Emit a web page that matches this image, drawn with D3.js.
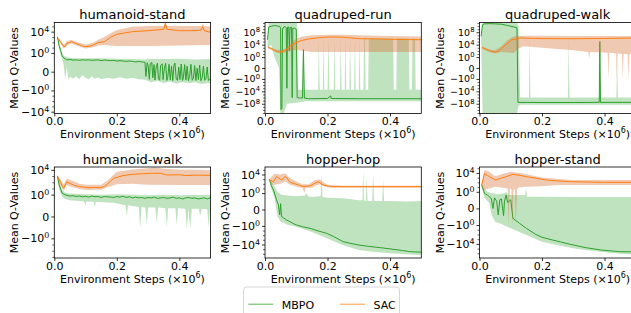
<!DOCTYPE html>
<html>
<head>
<meta charset="utf-8">
<script src="https://cdn.jsdelivr.net/npm/d3@7"></script>
<style>
  body { margin: 0; background: #fff; }
  svg { display: block; font-family: "DejaVu Sans", sans-serif; }
</style>
</head>
<body>
<svg id="chart" width="631" height="313"></svg>
<script>
// ---- data (x in millions of env steps, y = mean Q-value) ----
const taskNames = ["humanoid-stand", "quadruped-run", "quadruped-walk",
                   "humanoid-walk", "hopper-hop", "hopper-stand"];
const seriesNames = ["MBPO", "SAC"];
const xTicks = [0, 0.2, 0.4];
const yTicksSmall = [-1e4, -1, 0, 1, 1e4];
const yTicksWide = [-1e8, -1e4, -1, 0, 1, 1e4, 1e8];

// humanoid-stand
const hsSacMean = [[0.01,600],[0.02,130],[0.03,15],[0.035,15],[0.04,65],[0.055,130],[0.07,60],[0.09,20],[0.1,15],[0.115,20],[0.125,32],[0.14,87],[0.16,130],[0.18,870],[0.2,3.2e3],[0.25,1e4],[0.3,1.55e4],[0.35,2.8e4],[0.355,3.7e5],[0.36,2.8e4],[0.4,1.55e4],[0.45,1.55e4],[0.47,2e4],[0.475,8.7e4],[0.48,1.5e4],[0.5,7.6e3]];
const hsSacHi = [[0.01,1e3],[0.02,300],[0.03,30],[0.04,150],[0.055,300],[0.07,130],[0.1,40],[0.125,80],[0.14,300],[0.16,1e3],[0.18,5e3],[0.2,2e4],[0.25,8e4],[0.3,1.2e5],[0.35,1.2e5],[0.355,5e5],[0.36,1.3e5],[0.4,1.2e5],[0.47,1.2e5],[0.475,3e5],[0.48,1.2e5],[0.5,9e4]];
const hsSacLo = [[0.01,300],[0.02,60],[0.03,7],[0.04,25],[0.055,60],[0.07,25],[0.1,7],[0.125,12],[0.14,25],[0.16,30],[0.2,20],[0.3,20],[0.4,25],[0.5,30]];
const hsMbpoMean = [[0.01,1100],[0.015,30],[0.02,3],[0.025,0.3],[0.03,0.12],[0.035,0.08],[0.04,0.05],[0.05,0.06],[0.06,0.045],[0.07,0.05],[0.08,0.04],[0.09,0.05],[0.1,0.045],[0.11,0.05],[0.12,0.04],[0.13,0.045],[0.14,0.05],[0.15,0.035],[0.16,0.045],[0.17,0.04],[0.18,0.035],[0.19,0.04],[0.2,0.03],[0.21,0.035],[0.22,0.03],[0.23,0.025],[0.24,0.03],[0.25,0.025],[0.26,0.02],[0.27,0.025],[0.28,0.02],[0.29,0.018],[0.293,-0.002],[0.297,0.014],[0.3,0.004],[0.304,-0.008],[0.307,0.01],[0.312,0.016],[0.315,-0.004],[0.319,0.006],[0.322,-0.011],[0.326,0.002],[0.33,0.012],[0.333,-0.006],[0.337,-0.012],[0.34,0.004],[0.345,0.009],[0.348,-0.009],[0.352,0.001],[0.356,0.011],[0.36,-0.013],[0.363,-0.003],[0.367,0.007],[0.371,-0.01],[0.375,0.003],[0.379,-0.014],[0.383,0.005],[0.386,0.012],[0.39,-0.007],[0.394,-0.012],[0.398,0.002],[0.402,-0.009],[0.406,0.008],[0.41,-0.013],[0.413,-0.004],[0.417,0.006],[0.421,-0.011],[0.425,0.003],[0.429,-0.014],[0.433,-0.002],[0.437,0.007],[0.441,-0.012],[0.445,-0.005],[0.449,0.004],[0.453,-0.013],[0.457,0.001],[0.461,-0.009],[0.465,0.005],[0.469,-0.015],[0.473,-0.004],[0.477,0.003],[0.481,-0.012],[0.485,-0.006],[0.489,0.002],[0.493,-0.013],[0.497,-0.008],[0.5,-0.011]];
const hsMbpoHi = [[0.01,1500],[0.015,100],[0.02,10],[0.025,1],[0.03,0.3],[0.04,0.15],[0.06,0.1],[0.1,0.1],[0.15,0.1],[0.2,0.08],[0.25,0.07],[0.29,0.06],[0.3,0.08],[0.35,0.07],[0.4,0.08],[0.45,0.06],[0.5,0.07]];
const hsMbpoLo = [[0.01,800],[0.015,10],[0.02,0.5],[0.025,0.05],[0.03,0.005],[0.035,-0.01],[0.04,0.002],[0.045,-0.012],[0.05,-0.002],[0.06,-0.006],[0.07,-0.002],[0.08,-0.008],[0.09,-0.001],[0.1,-0.004],[0.11,-0.008],[0.12,-0.002],[0.13,-0.006],[0.14,-0.003],[0.15,-0.008],[0.17,-0.004],[0.19,-0.006],[0.21,-0.003],[0.23,-0.006],[0.25,-0.004],[0.27,-0.008],[0.29,-0.01],[0.31,-0.03],[0.33,-0.015],[0.35,-0.04],[0.37,-0.02],[0.39,-0.05],[0.41,-0.025],[0.43,-0.045],[0.45,-0.03],[0.47,-0.06],[0.49,-0.04],[0.5,-0.05]];

// quadruped-run
const qrSacMean = [[0.01,1.3e3],[0.02,600],[0.03,150],[0.037,70],[0.045,45],[0.053,43],[0.06,80],[0.075,830],[0.085,5e3],[0.096,3.4e4],[0.11,1.2e5],[0.12,2.5e5],[0.14,7e5],[0.165,1.4e6],[0.19,2.5e6],[0.21,3e6],[0.25,2.5e6],[0.3,8.5e5],[0.36,7e5],[0.41,5.2e5],[0.45,4.5e5],[0.5,4e5]];
const qrSacHi = [[0.01,3e3],[0.03,400],[0.05,150],[0.065,500],[0.08,2e4],[0.1,1e6],[0.12,4e6],[0.15,1e7],[0.2,1.7e7],[0.25,1.5e7],[0.3,1e7],[0.4,6e6],[0.5,4e6]];
const qrSacLo = [[0.01,600],[0.03,60],[0.05,15],[0.065,30],[0.08,100],[0.1,200],[0.12,100],[0.15,45],[0.2,43],[0.3,43],[0.4,43],[0.5,43]];
const qrMbpoMean = [[0.008,4e5],[0.012,5e9],[0.02,8e9],[0.03,1.5e10],[0.04,1e10],[0.048,6e9],[0.05,3e9],[0.051,-8e9],[0.054,-3e9],[0.056,1e9],[0.06,5e9],[0.065,6e9],[0.068,3e9],[0.07,-1e3],[0.072,4e9],[0.076,5e9],[0.078,1e2],[0.08,3e9],[0.085,4e9],[0.087,-1e6],[0.089,2e9],[0.095,2e9],[0.1,1e9],[0.103,-1e6],[0.11,-1.4e6],[0.12,-1.4e6],[0.123,240],[0.126,-1.5e6],[0.14,-2.4e6],[0.2,-2e6],[0.21,-3e5],[0.212,-2e6],[0.3,-2.4e6],[0.4,-2.4e6],[0.5,-2.4e6]];
const qrMbpoHi = [[0.008,1e6],[0.012,1e11],[0.1,1e11],[0.102,1e11],[0.105,-3e3],[0.12,-3e3],[0.122,1e6],[0.124,-3e3],[0.17,-3e3],[0.172,1e6],[0.175,-3e3],[0.185,-3e3],[0.187,1e6],[0.19,-3e3],[0.2,-3e3],[0.203,2e6],[0.206,-3e3],[0.22,-3e3],[0.222,1e6],[0.225,-3e3],[0.24,-3e3],[0.242,1e6],[0.245,-3e3],[0.255,-3e3],[0.257,2e6],[0.26,-3e3],[0.27,-3e3],[0.272,1e6],[0.275,-3e3],[0.285,-3e3],[0.288,1e6],[0.29,-3e3],[0.3,-3e3],[0.302,1e6],[0.305,-3e3],[0.315,-3e3],[0.317,1e6],[0.32,1e6],[0.322,-3e3],[0.33,-3e3],[0.332,1e6],[0.41,1e6],[0.412,-3e3],[0.42,-3e3],[0.422,1e6],[0.46,1e6],[0.462,-3e3],[0.47,-3e3],[0.472,1e6],[0.48,1e6],[0.482,-3e3],[0.5,-3e3]];
const qrMbpoLo = [[0.008,1e3],[0.02,1e4],[0.03,1],[0.045,0],[0.049,-1e11],[0.06,-1e11],[0.065,-5e9],[0.07,-1e8],[0.1,-5e7],[0.13,-1.5e7],[0.2,-1.5e7],[0.3,-1.7e7],[0.4,-1.7e7],[0.5,-1.7e7]];

// quadruped-walk
const qwSacMean = [[0.008,1.3e3],[0.02,400],[0.035,100],[0.05,43],[0.06,80],[0.07,600],[0.085,1e4],[0.103,4e5],[0.13,1.4e6],[0.2,9e5],[0.3,8e5],[0.4,1e6],[0.5,1.4e6]];
const qwSacHi = [[0.008,3e3],[0.03,300],[0.05,150],[0.07,3e3],[0.09,3e5],[0.11,5e6],[0.13,8e6],[0.2,8e6],[0.3,6e6],[0.4,6e6],[0.5,6e6]];
const qwSacLo = [[0.008,500],[0.03,40],[0.05,15],[0.07,40],[0.09,30],[0.11,20],[0.12,300],[0.14,3e3],[0.2,1e3],[0.3,150],[0.348,40],[0.351,0.5],[0.354,40],[0.41,25],[0.412,-1.8],[0.415,25],[0.437,15],[0.439,-2],[0.442,15],[0.456,10],[0.458,-1.8],[0.461,10],[0.474,8],[0.476,-2],[0.479,8],[0.5,6]];
const qwMbpoMean = [[0.005,5e6],[0.01,3e10],[0.015,5e10],[0.03,6e10],[0.05,5e10],[0.07,4e10],[0.09,1.5e10],[0.11,5e9],[0.12,3e9],[0.123,-3.7e7],[0.15,-3.7e7],[0.2,-4e7],[0.3,-4e7],[0.383,-3.5e7],[0.385,1e5],[0.387,-3.7e7],[0.5,-3.5e7]];
const qwMbpoHi = [[0.005,1e7],[0.01,1e11],[0.12,1e11],[0.125,1e10],[0.13,-1e6],[0.158,-1e6],[0.16,1e6],[0.163,-1e6],[0.283,-1e6],[0.285,1e6],[0.288,-1e6],[0.383,-1e6],[0.385,2e6],[0.388,-1e6],[0.438,-1e6],[0.44,0.5],[0.443,-1e6],[0.5,-1e6]];
const qwMbpoLo = [[0.005,1e6],[0.01,-1e11],[0.12,-1e11],[0.125,-5e8],[0.13,-2e8],[0.5,-2e8]];

// humanoid-walk
const hwSacMean = [[0.01,800],[0.02,100],[0.03,11],[0.04,123],[0.05,68],[0.065,30],[0.08,20],[0.1,15],[0.115,13],[0.13,15],[0.145,13],[0.16,20],[0.17,47],[0.18,150],[0.19,440],[0.22,1.2e3],[0.25,1.9e3],[0.28,2.3e3],[0.31,2.8e3],[0.34,2.8e3],[0.36,1.5e3],[0.4,1.6e3],[0.42,1.2e3],[0.45,1.4e3],[0.5,1.3e3]];
const hwSacHi = [[0.01,1.5e3],[0.02,300],[0.03,40],[0.04,400],[0.05,250],[0.08,60],[0.1,40],[0.15,40],[0.17,200],[0.2,5e3],[0.25,1.2e4],[0.3,1.8e4],[0.32,2.5e4],[0.35,1.5e4],[0.4,1e4],[0.45,1e4],[0.5,9e3]];
const hwSacLo = [[0.01,400],[0.02,30],[0.03,4],[0.04,40],[0.05,20],[0.08,8],[0.1,5.6],[0.15,6],[0.17,15],[0.2,47],[0.25,60],[0.3,40],[0.4,36],[0.5,36]];
const hwMbpoMean = [[0.01,1e3],[0.015,50],[0.025,1.7],[0.035,0.9],[0.05,0.6],[0.06,0.7],[0.07,0.5],[0.08,0.6],[0.09,0.45],[0.1,0.55],[0.11,0.4],[0.12,0.6],[0.13,0.45],[0.14,0.5],[0.15,0.35],[0.16,0.5],[0.17,0.45],[0.18,0.4],[0.19,0.35],[0.2,0.5],[0.21,0.4],[0.22,0.55],[0.23,0.35],[0.24,0.45],[0.25,0.3],[0.26,0.4],[0.27,0.3],[0.28,0.35],[0.29,0.25],[0.3,0.35],[0.31,0.3],[0.32,0.4],[0.33,0.25],[0.34,0.3],[0.35,0.35],[0.36,0.25],[0.37,0.3],[0.38,0.4],[0.39,0.25],[0.4,0.3],[0.41,0.2],[0.42,0.3],[0.43,0.35],[0.44,0.25],[0.45,0.3],[0.46,0.2],[0.47,0.25],[0.48,0.3],[0.49,0.2],[0.5,0.35]];
const hwMbpoHi = [[0.01,1.5e3],[0.015,200],[0.025,5],[0.035,2],[0.05,1.5],[0.1,1.2],[0.15,1],[0.2,1.2],[0.25,1],[0.3,0.8],[0.35,1],[0.4,0.8],[0.45,0.9],[0.5,1]];
const hwMbpoLo = [[0.01,500],[0.015,10],[0.025,0.5],[0.035,0.2],[0.05,0.12],[0.07,0.1],[0.095,0.08],[0.1,0.02],[0.103,0.08],[0.125,0.07],[0.13,0.01],[0.133,0.07],[0.16,0.06],[0.19,0.05],[0.21,0.03],[0.228,0.02],[0.232,0.0001],[0.236,0.02],[0.27,0.01],[0.275,-0.023],[0.279,0.01],[0.291,0.008],[0.296,-0.007],[0.3,0.008],[0.323,0.008],[0.328,-0.003],[0.332,0.008],[0.355,0.006],[0.36,-0.015],[0.364,0.006],[0.387,0.006],[0.392,-0.007],[0.396,0.006],[0.419,0.005],[0.424,-0.03],[0.429,0.004],[0.435,-0.023],[0.44,0.005],[0.462,0.005],[0.467,0.0001],[0.472,0.005],[0.489,0.004],[0.494,-0.015],[0.498,0.004],[0.5,0.003]];

// hopper-hop
const hhSacMean = [[0.014,660],[0.027,290],[0.037,3.5e3],[0.045,1.5e3],[0.053,660],[0.064,3.5e3],[0.07,2e3],[0.08,210],[0.1,80],[0.122,25],[0.144,36],[0.16,130],[0.17,290],[0.186,56],[0.21,25],[0.25,25],[0.3,25],[0.4,25],[0.5,25]];
const hhSacHi = [[0.014,1e3],[0.02,3e3],[0.03,1.5e4],[0.05,1e4],[0.065,1.8e4],[0.08,1.5e3],[0.1,300],[0.12,80],[0.14,80],[0.16,660],[0.175,800],[0.19,150],[0.2,60],[0.25,36],[0.5,36]];
const hhSacLo = [[0.014,400],[0.02,80],[0.03,56],[0.05,100],[0.065,300],[0.08,60],[0.1,25],[0.12,12],[0.126,1],[0.13,12],[0.15,15],[0.16,40],[0.175,80],[0.19,25],[0.21,15],[0.5,15]];
const hhMbpoMean = [[0.014,1e3],[0.02,40],[0.027,4.7],[0.037,0.033],[0.043,0.0026],[0.047,-0.004],[0.05,0.005],[0.053,-0.01],[0.06,-0.02],[0.07,-0.06],[0.08,-0.125],[0.09,-0.3],[0.1,-0.64],[0.12,-1.5],[0.144,-3.4],[0.17,-12],[0.197,-40],[0.22,-200],[0.25,-2.5e3],[0.275,-6e3],[0.3,-1.3e4],[0.33,-2.5e4],[0.357,-4e4],[0.38,-6e4],[0.41,-1.1e5],[0.44,-2e5],[0.463,-3.5e5],[0.48,-4e5],[0.5,-4.5e5]];
const hhMbpoHi = [[0.014,1.5e3],[0.02,300],[0.03,30],[0.04,2],[0.05,0.5],[0.07,0.3],[0.1,0.2],[0.128,0.3],[0.133,1],[0.138,0.2],[0.15,0.15],[0.178,0.2],[0.181,1.8e4],[0.184,0.15],[0.2,0.1],[0.25,0.08],[0.3,0.03],[0.312,0.03],[0.314,9e4],[0.317,0.03],[0.323,0.02],[0.325,8e3],[0.328,0.02],[0.343,0.02],[0.346,1.8e4],[0.349,0.02],[0.375,0.02],[0.378,660],[0.381,0.02],[0.4,0.02],[0.45,0.015],[0.5,0.02]];
const hhMbpoLo = [[0.014,600],[0.02,10],[0.03,0.1],[0.04,-0.01],[0.05,-0.12],[0.07,-0.5],[0.1,-1.5],[0.15,-20],[0.2,-500],[0.25,-1.5e4],[0.3,-1.5e5],[0.35,-4e5],[0.4,-8e5],[0.45,-1.2e6],[0.5,-1.8e6]];

// hopper-stand
const hstSacMean = [[0.007,27],[0.016,8e3],[0.025,3e3],[0.032,1.6e3],[0.045,500],[0.053,320],[0.07,800],[0.085,1.6e3],[0.107,5e3],[0.13,3e3],[0.15,1.6e3],[0.18,800],[0.213,320],[0.25,200],[0.29,140],[0.34,120],[0.4,100],[0.5,100]];
const hstSacHi = [[0.007,50],[0.016,4e4],[0.03,2e4],[0.05,2e3],[0.07,5e3],[0.1,1.8e4],[0.13,1e4],[0.15,5e3],[0.2,1.1e3],[0.25,500],[0.3,320],[0.4,320],[0.5,300]];
const hstSacLo = [[0.007,10],[0.016,2.4],[0.03,5],[0.05,12],[0.07,8],[0.09,5],[0.093,-1],[0.097,5],[0.102,3],[0.105,-1],[0.109,3],[0.113,3],[0.116,-1],[0.12,3],[0.125,8],[0.15,12],[0.2,15],[0.25,27],[0.5,27]];
const hstMbpoMean = [[0.007,27],[0.016,0.47],[0.025,0.2],[0.032,0.09],[0.038,0.03],[0.043,0],[0.048,0.05],[0.055,0.01],[0.06,-0.007],[0.065,0.02],[0.07,0.03],[0.077,-0.01],[0.08,0.01],[0.085,0.2],[0.09,0.005],[0.1,0.02],[0.107,-0.037],[0.115,-0.1],[0.128,-0.43],[0.15,-5],[0.18,-95],[0.2,-400],[0.234,-1.5e3],[0.26,-4e3],[0.29,-1.2e4],[0.34,-6.3e4],[0.39,-2e5],[0.45,-4.5e5],[0.5,-5e5]];
const hstMbpoHi = [[0.007,50],[0.016,5],[0.025,1],[0.04,0.5],[0.06,0.3],[0.08,0.5],[0.085,1],[0.09,0.3],[0.1,0.2],[0.146,0.2],[0.149,5.5],[0.152,0.09],[0.2,0.09],[0.3,0.08],[0.4,0.08],[0.5,0.08]];
const hstMbpoLo = [[0.007,10],[0.016,0.05],[0.03,0.005],[0.04,-0.01],[0.05,-0.19],[0.07,-0.6],[0.1,-5],[0.15,-130],[0.2,-3.4e3],[0.25,-2e4],[0.3,-8.5e4],[0.35,-2.5e5],[0.4,-6e5],[0.45,-1.2e6],[0.5,-2.2e6]];

// ---- layout ----
const colLeft = [54.3, 265, 479.5];
const rowTop = [22.5, 167];
const plotW = 156.3, plotH = 91;
const symC = 3e-4;

const green = "#2ca02c", orange = "#ff7f0e";
const greenFill = "#2ca02c", orangeFill = "#d9783f";

const panels = [
  { title: taskNames[0], yDomain: [-2.2e4, 5.3e5], ticks: yTicksSmall,
    mbpo: [hsMbpoMean, hsMbpoLo, hsMbpoHi], sac: [hsSacMean, hsSacLo, hsSacHi] },
  { title: taskNames[1], yDomain: [-1.4e11, 1.4e11], ticks: yTicksWide,
    mbpo: [qrMbpoMean, qrMbpoLo, qrMbpoHi], sac: [qrSacMean, qrSacLo, qrSacHi] },
  { title: taskNames[2], yDomain: [-1.4e11, 1.4e11], ticks: yTicksWide,
    mbpo: [qwMbpoMean, qwMbpoLo, qwMbpoHi], sac: [qwSacMean, qwSacLo, qwSacHi] },
  { title: taskNames[3], yDomain: [-1.5e3, 2.9e4], ticks: yTicksSmall,
    mbpo: [hwMbpoMean, hwMbpoLo, hwMbpoHi], sac: [hwSacMean, hwSacLo, hwSacHi] },
  { title: taskNames[4], yDomain: [-8.1e6, 4.1e5], ticks: yTicksSmall,
    mbpo: [hhMbpoMean, hhMbpoLo, hhMbpoHi], sac: [hhSacMean, hhSacLo, hhSacHi] },
  { title: taskNames[5], yDomain: [-9.7e6, 1.8e5], ticks: yTicksSmall,
    mbpo: [hstMbpoMean, hstMbpoLo, hstMbpoHi], sac: [hstSacMean, hstSacLo, hstSacHi] },
];

const svg = d3.select("#chart");
const defs = svg.append("defs");

// "10^k" labels with a raised exponent
function tickLabel(text, v, fs) {
  text.text(null);
  if (v === 0) { text.text("0"); return; }
  const e = Math.round(Math.log10(Math.abs(v)));
  text.append("tspan").text((v < 0 ? "\u2212" : "") + "10");
  text.append("tspan").attr("dy", -fs * 0.36).attr("font-size", fs * 0.72).text(e);
}

panels.forEach((p, i) => {
  const left = colLeft[i % 3], top = rowTop[Math.floor(i / 3)];
  const x = d3.scaleLinear().domain([0, 0.5]).range([left, left + plotW]);
  const y = d3.scaleSymlog().constant(symC).domain(p.yDomain).range([top + plotH, top]);
  const tickFs = p.ticks.length > 5 ? 9.5 : 11;

  defs.append("clipPath").attr("id", "clip" + i)
    .append("rect").attr("x", left).attr("y", top).attr("width", plotW).attr("height", plotH);

  const g = svg.append("g");
  const plot = g.append("g").attr("clip-path", `url(#clip${i})`);

  const line = d3.line().x(d => x(d[0])).y(d => y(d[1]));
  const band = (lo, hi) => line(hi.concat(lo.slice().reverse())) + "Z";

  const [mMean, mLo, mHi] = p.mbpo;
  const [sMean, sLo, sHi] = p.sac;

  plot.append("path").attr("d", band(mLo, mHi))
    .attr("fill", greenFill).attr("fill-opacity", 0.3);
  plot.append("path").attr("d", line(mMean))
    .attr("fill", "none").attr("stroke", green).attr("stroke-width", 1).attr("stroke-linejoin", "round");
  plot.append("path").attr("d", band(sLo, sHi))
    .attr("fill", orangeFill).attr("fill-opacity", 0.4);
  plot.append("path").attr("d", line(sMean))
    .attr("fill", "none").attr("stroke", orange).attr("stroke-width", 1).attr("stroke-linejoin", "round");

  // minor ticks at the unlabeled powers of ten
  const minor = [];
  for (let k = 1; k <= 11; k++) {
    for (const s of [1, -1]) {
      const v = s * Math.pow(10, k);
      if (v >= p.yDomain[0] && v <= p.yDomain[1] && !p.ticks.includes(v)) minor.push(v);
    }
  }
  g.append("g").attr("transform", `translate(${left},0)`)
    .call(d3.axisLeft(y).tickValues(minor).tickSize(2).tickFormat(""))
    .call(a => a.select(".domain").remove())
    .selectAll("line").attr("stroke-width", 0.6);

  const ya = g.append("g").attr("transform", `translate(${left},0)`)
    .call(d3.axisLeft(y).tickValues(p.ticks.filter(v => v >= p.yDomain[0] && v <= p.yDomain[1]))
      .tickSize(3).tickPadding(2));
  ya.select(".domain").remove();
  ya.attr("font-family", null).attr("font-size", tickFs);
  ya.selectAll(".tick text").attr("fill", "#000").each(function (v) { tickLabel(d3.select(this), v, tickFs); });
  ya.selectAll(".tick line").attr("stroke-width", 0.8);

  const xa = g.append("g").attr("transform", `translate(0,${top + plotH})`)
    .call(d3.axisBottom(x).tickValues(xTicks).tickFormat(d3.format(".1f")).tickSize(3).tickPadding(1));
  xa.select(".domain").remove();
  xa.attr("font-family", null).attr("font-size", 11);
  xa.selectAll(".tick text").attr("fill", "#000");
  xa.selectAll(".tick line").attr("stroke-width", 0.8);

  g.append("rect").attr("x", left).attr("y", top).attr("width", plotW).attr("height", plotH)
    .attr("fill", "none").attr("stroke", "#000").attr("stroke-width", 0.8);

  g.append("text").attr("x", left + plotW / 2).attr("y", top - 3.5)
    .attr("text-anchor", "middle").attr("font-size", 13).text(p.title);

  g.append("text").attr("x", left + plotW / 2).attr("y", top + plotH + 24.5)
    .attr("text-anchor", "middle").attr("font-size", 11)
    .call(t => {
      t.append("tspan").text("Environment Steps (\u00d710");
      t.append("tspan").attr("dy", -4.6).attr("font-size", 8).text("6");
      t.append("tspan").attr("dy", 4.6).text(")");
    });

  g.append("text")
    .attr("transform", `translate(${left - 36},${top + plotH / 2}) rotate(-90)`)
    .attr("text-anchor", "middle").attr("font-size", 11).text("Mean Q-Values");
});

// legend
const leg = svg.append("g");
leg.append("rect").attr("x", 243.5).attr("y", 287).attr("width", 156).attr("height", 32)
  .attr("rx", 3).attr("fill", "#fff").attr("stroke", "#cccccc").attr("stroke-width", 0.8);
const legX = [248.3, 340];
seriesNames.forEach((name, i) => {
  const c = i === 0 ? green : orange;
  leg.append("line").attr("x1", legX[i]).attr("x2", legX[i] + 25)
    .attr("y1", 304.3).attr("y2", 304.3)
    .attr("stroke", c).attr("stroke-width", 1.5).attr("stroke-opacity", 0.55);
  leg.append("text").attr("x", legX[i] + 33.5).attr("y", 308.5)
    .attr("font-size", 11).text(name);
});
</script>
</body>
</html>
